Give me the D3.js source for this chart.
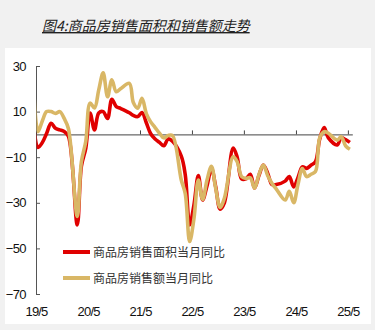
<!DOCTYPE html>
<html><head><meta charset="utf-8">
<script src="https://cdn.jsdelivr.net/npm/d3@7"></script>
<style>
html,body{margin:0;padding:0;background:#f1f1f1;}
svg{display:block;}
</style></head>
<body>
<svg id="c" width="375" height="330"></svg>
<script>
const titleText = "图4:商品房销售面积和销售额走势";
const seriesNames = ["商品房销售面积当月同比", "商品房销售额当月同比"];
const months = [
 "2019-04","2019-05","2019-06","2019-07","2019-08","2019-09","2019-10","2019-11","2019-12",
 "2020-02","2020-03","2020-04","2020-05","2020-06","2020-07","2020-08","2020-09","2020-10","2020-11","2020-12",
 "2021-02","2021-03","2021-04","2021-05","2021-06","2021-07","2021-08","2021-09","2021-10","2021-11","2021-12",
 "2022-02","2022-03","2022-04","2022-05","2022-06","2022-07","2022-08","2022-09","2022-10","2022-11","2022-12",
 "2023-02","2023-03","2023-04","2023-05","2023-06","2023-07","2023-08","2023-09","2023-10","2023-11","2023-12",
 "2024-02","2024-03","2024-04","2024-05","2024-06","2024-07","2024-08","2024-09","2024-10","2024-11","2024-12",
 "2025-02","2025-03","2025-04","2025-05"
];
const areaYoY = [
 3, -5.7, -3.5, 0.5, 4.9, 2.7, 2.0, 1.3, -0.8,
 -39.7, -14, -6, 9.4, 2, 9.4, 10, 7, 15.4, 12.2, 11.4,
 9.5, 8.3, 7.8, 9.6, 5, 0.3, -2, -3.5, -5, -2, -3,
 -9.5, -17.7, -39.7, -31, -18, -28.8, -22.5, -15, -23, -32.8, -30,
 -6, -10, -19.5, -19.5, -17.5, -23.6, -18, -13.4, -17, -22, -22,
 -20.5, -18.5, -23, -19, -14.2, -14.9, -13.5, -12, -2, 3, -1.5,
 -4.6, -1.5, -2.3, -3.5
];
const salesYoY = [
 20, 1.2, 6, 10, 10, 9.2, 10, 7, 2.5,
 -36, -12, -3, 13.7, 11.6, 19.5, 27, 16.5, 24, 18.7, 20,
 22.4, 14, 11.5, 15.8, 9, 5.5, 3, 0.5, -1.5, -0.5, -0.5,
 -20, -26, -47, -37, -20, -28.5, -20, -14, -23.7, -32, -28,
 -9.8, -12, -18.5, -19.3, -19, -23.6, -17.5, -13.4, -18, -21.5, -24,
 -28.8, -25, -30, -22, -15, -18.5, -17.5, -16.3, -1.5, 1.2, 0.5,
 -2.5, -1, -5, -6.5
];
const xTickMonths = ["2019-05","2020-05","2021-05","2022-05","2023-05","2024-05","2025-05"];
const xTickLabels = ["19/5","20/5","21/5","22/5","23/5","24/5","25/5"];
const yTicks = [30, 10, -10, -30, -50, -70];
const colors = ["#e00000", "#d9b766"];

const svg = d3.select("#c");
svg.append("rect").attr("x",5).attr("y",48).attr("width",366).attr("height",276).attr("fill","#ffffff");

svg.append("text").attr("x",42).attr("y",31)
  .attr("font-family","'Noto Sans CJK SC', sans-serif").attr("font-size",14)
  .attr("font-style","italic").attr("fill","#222").attr("text-decoration","underline")
  .text(titleText);

const parseM = s => { const [y,m] = s.split("-").map(Number); return new Date(y, m-1, 1); };
const mid = s => { const [y,m] = s.split("-").map(Number); return new Date(y, m-1, 15); };

const x = d3.scaleTime().domain([parseM("2019-05"), parseM("2025-06")]).range([36, 352.3]);
const y = d3.scaleLinear().domain([-70, 30]).range([294, 66]);

const font = "'Liberation Sans', Arial, sans-serif";

// y axis
const ya = svg.append("g").attr("transform", `translate(${x.range()[0]},0)`)
  .call(d3.axisLeft(y).tickValues(yTicks).tickFormat(d3.format("d")).tickSizeInner(-4).tickSizeOuter(0).tickPadding(10));
ya.select(".domain").attr("stroke","#555");
ya.selectAll(".tick line").attr("stroke","#555");
ya.selectAll("text").attr("font-family",font).attr("font-size",13).attr("fill","#111").attr("letter-spacing","-0.6");

// zero axis with upward ticks
const xa = svg.append("g").attr("transform", `translate(0,${y(0)})`)
  .call(d3.axisBottom(x).tickValues(xTickMonths.map(parseM)).tickFormat("").tickSizeInner(-4).tickSizeOuter(0));
xa.select(".domain").attr("stroke","#444");
xa.selectAll(".tick line").attr("stroke","#444");

// bottom labels
const xl = svg.append("g").attr("transform", `translate(0,${y(-70)})`)
  .call(d3.axisBottom(x).tickValues(xTickMonths.map(parseM)).tickFormat((d,i)=>xTickLabels[i]).tickSize(0).tickPadding(13));
xl.select(".domain").remove();
xl.selectAll("text").attr("font-family",font).attr("font-size",13).attr("fill","#111").attr("letter-spacing","-0.8");

// clip
svg.append("clipPath").attr("id","pc").append("rect")
  .attr("x", x.range()[0]+0.5).attr("y", 40).attr("width", 340).attr("height", 270);

const line = vals => d3.line()
  .x((d,i)=>x(mid(months[i])))
  .y(d=>y(d))
  .curve(d3.curveCatmullRom.alpha(0.5))(vals);

const g = svg.append("g").attr("clip-path","url(#pc)");
g.append("path").attr("d", line(areaYoY)).attr("fill","none").attr("stroke",colors[0]).attr("stroke-width",3.6).attr("stroke-linejoin","round");
g.append("path").attr("d", line(salesYoY)).attr("fill","none").attr("stroke",colors[1]).attr("stroke-width",3.6).attr("stroke-linejoin","round");

// legend
const leg = svg.append("g");
seriesNames.forEach((n,i)=>{
  const ly = 252 + i*26;
  leg.append("line").attr("x1",63).attr("x2",90).attr("y1",ly).attr("y2",ly)
    .attr("stroke",colors[i]).attr("stroke-width",4);
  leg.append("text").attr("x",93).attr("y",ly+4.5)
    .attr("font-family","'Noto Sans CJK SC', sans-serif").attr("font-size",12).attr("fill","#333")
    .text(n);
});
</script>
</body></html>
